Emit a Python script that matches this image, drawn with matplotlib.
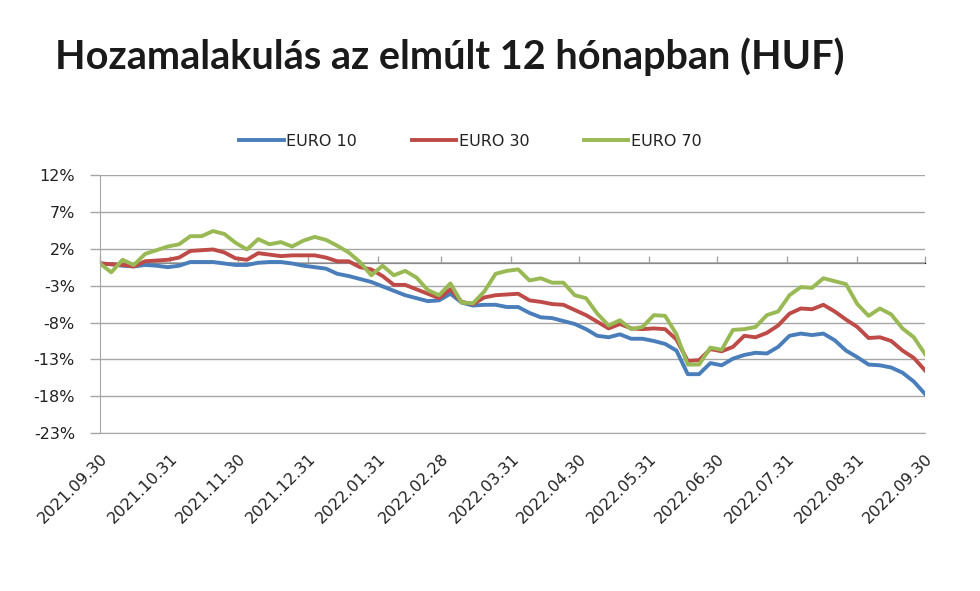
import numpy as np
import pandas as pd
import matplotlib
matplotlib.use('Agg')
import matplotlib.pyplot as plt
import matplotlib.dates as mdates

# dates every 5 days, 2021.09.30 -> 2022.09.30
dates = pd.date_range('2021-09-30', '2022-09-30', freq='5D')

# returns in %
euro10 = [0.0, -0.1, -0.3, -0.4, -0.2, -0.3, -0.5, -0.3, 0.2, 0.2,
          0.2, 0.0, -0.2, -0.2, 0.1, 0.2, 0.2, 0.0, -0.3, -0.5,
          -0.7, -1.4, -1.7, -2.1, -2.5, -3.1, -3.7, -4.3, -4.7, -5.1,
          -5.0, -4.1, -5.3, -5.7, -5.6, -5.6, -5.9, -5.9, -6.7, -7.3,
          -7.4, -7.8, -8.2, -8.9, -9.8, -10.0, -9.6, -10.2, -10.2, -10.5,
          -10.9, -11.8, -15.0, -15.0, -13.5, -13.8, -12.9, -12.4, -12.1, -12.2,
          -11.3, -9.8, -9.5, -9.7, -9.5, -10.4, -11.8, -12.7, -13.7, -13.8,
          -14.1, -14.8, -16.0, -17.7]
euro30 = [0.0, -0.1, -0.2, -0.4, 0.3, 0.4, 0.5, 0.8, 1.7, 1.8,
          1.9, 1.5, 0.7, 0.5, 1.4, 1.2, 1.0, 1.1, 1.1, 1.1,
          0.8, 0.3, 0.3, -0.5, -0.8, -1.7, -2.9, -2.9, -3.5, -4.1,
          -4.7, -3.5, -5.2, -5.5, -4.6, -4.3, -4.2, -4.1, -5.0, -5.2,
          -5.5, -5.6, -6.3, -7.0, -7.9, -8.8, -8.2, -8.8, -8.9, -8.8,
          -8.9, -10.3, -13.2, -13.1, -11.6, -11.9, -11.3, -9.8, -10.0, -9.4,
          -8.4, -6.8, -6.1, -6.2, -5.6, -6.5, -7.6, -8.6, -10.1, -10.0,
          -10.5, -11.8, -12.8, -14.5]
euro70 = [0.0, -1.2, 0.5, -0.2, 1.3, 1.8, 2.3, 2.6, 3.7, 3.7,
          4.4, 4.0, 2.8, 1.9, 3.3, 2.6, 2.9, 2.3, 3.1, 3.6,
          3.2, 2.4, 1.5, 0.2, -1.6, -0.3, -1.6, -1.0, -1.9, -3.6,
          -4.3, -2.7, -5.3, -5.4, -3.8, -1.4, -1.0, -0.8, -2.3, -2.0,
          -2.6, -2.6, -4.3, -4.7, -6.8, -8.4, -7.7, -8.9, -8.6, -7.0,
          -7.1, -9.6, -13.7, -13.7, -11.4, -11.7, -9.0, -8.9, -8.6, -7.0,
          -6.5, -4.3, -3.2, -3.3, -2.0, -2.4, -2.8, -5.5, -7.1, -6.1,
          -6.9, -8.8, -10.0, -12.3]

series_names = ['EURO 10', 'EURO 30', 'EURO 70']
colors = ['#4a7ebb', '#be4b48', '#98b954']
month_ticks = ['2021-09-30', '2021-10-31', '2021-11-30', '2021-12-31', '2022-01-31',
               '2022-02-28', '2022-03-31', '2022-04-30', '2022-05-31', '2022-06-30',
               '2022-07-31', '2022-08-31', '2022-09-30']
y_ticks = [-23, -18, -13, -8, -3, 2, 7, 12]

plt.rcParams['font.family'] = ['DejaVu Sans']
grey = '#a6a6a6'
txt = '#222222'

fig = plt.figure(figsize=(9.8, 5.91), dpi=100)
ax = fig.add_axes([0.102, 0.267, 0.842, 0.437])

for vals, name, c in zip([euro10, euro30, euro70], series_names, colors):
    ax.plot(dates, vals, color=c, lw=2.8, label=name, solid_joinstyle='round')

tick_dates = pd.to_datetime(month_ticks)
ax.set_xlim(tick_dates[0], tick_dates[-1])
ax.set_ylim(-23, 12)
ax.set_yticks(y_ticks)
ax.set_yticklabels([f'{v}%' for v in y_ticks])
ax.yaxis.grid(True, color=grey, lw=1)
ax.set_axisbelow(True)

ax.set_xticks(tick_dates)
ax.set_xticklabels([d.strftime('%Y.%m.%d') for d in tick_dates],
                   rotation=45, ha='right', va='top', rotation_mode='anchor')
ax.tick_params(axis='x', length=0, pad=13, labelsize=11.5, colors=txt)
ax.tick_params(axis='y', length=7, width=1, color=grey, labelsize=11.5,
               labelcolor=txt, pad=11)

for s in ['top', 'right']:
    ax.spines[s].set_visible(False)
ax.spines['left'].set_color(grey)
ax.spines['bottom'].set_color(grey)

# category axis crossing at 0 with its tick marks
ax.axhline(0, color=grey, lw=1.2, zorder=1)
frac0 = (0 - (-23)) / 35
sec = ax.secondary_xaxis(frac0)
sec.set_xticks(tick_dates)
sec.set_xticklabels([])
sec.tick_params(length=5, width=1, color=grey, direction='out')
sec.spines['bottom'].set_visible(False)

fig.legend(*ax.get_legend_handles_labels(), loc='center', bbox_to_anchor=(0.48, 0.761),
           ncol=3, frameon=False, fontsize=11.5, handlelength=2.8,
           columnspacing=3.4, handletextpad=0.15, labelcolor=txt)

fig.text(0.056, 0.883, 'Hozamalakulás az elmúlt 12 hónapban (HUF)', family='Lato',
         fontsize=28.5, fontweight='bold', color='#1a1a1a', va='baseline')

fig.savefig('out.png', dpi=100, facecolor='white')
